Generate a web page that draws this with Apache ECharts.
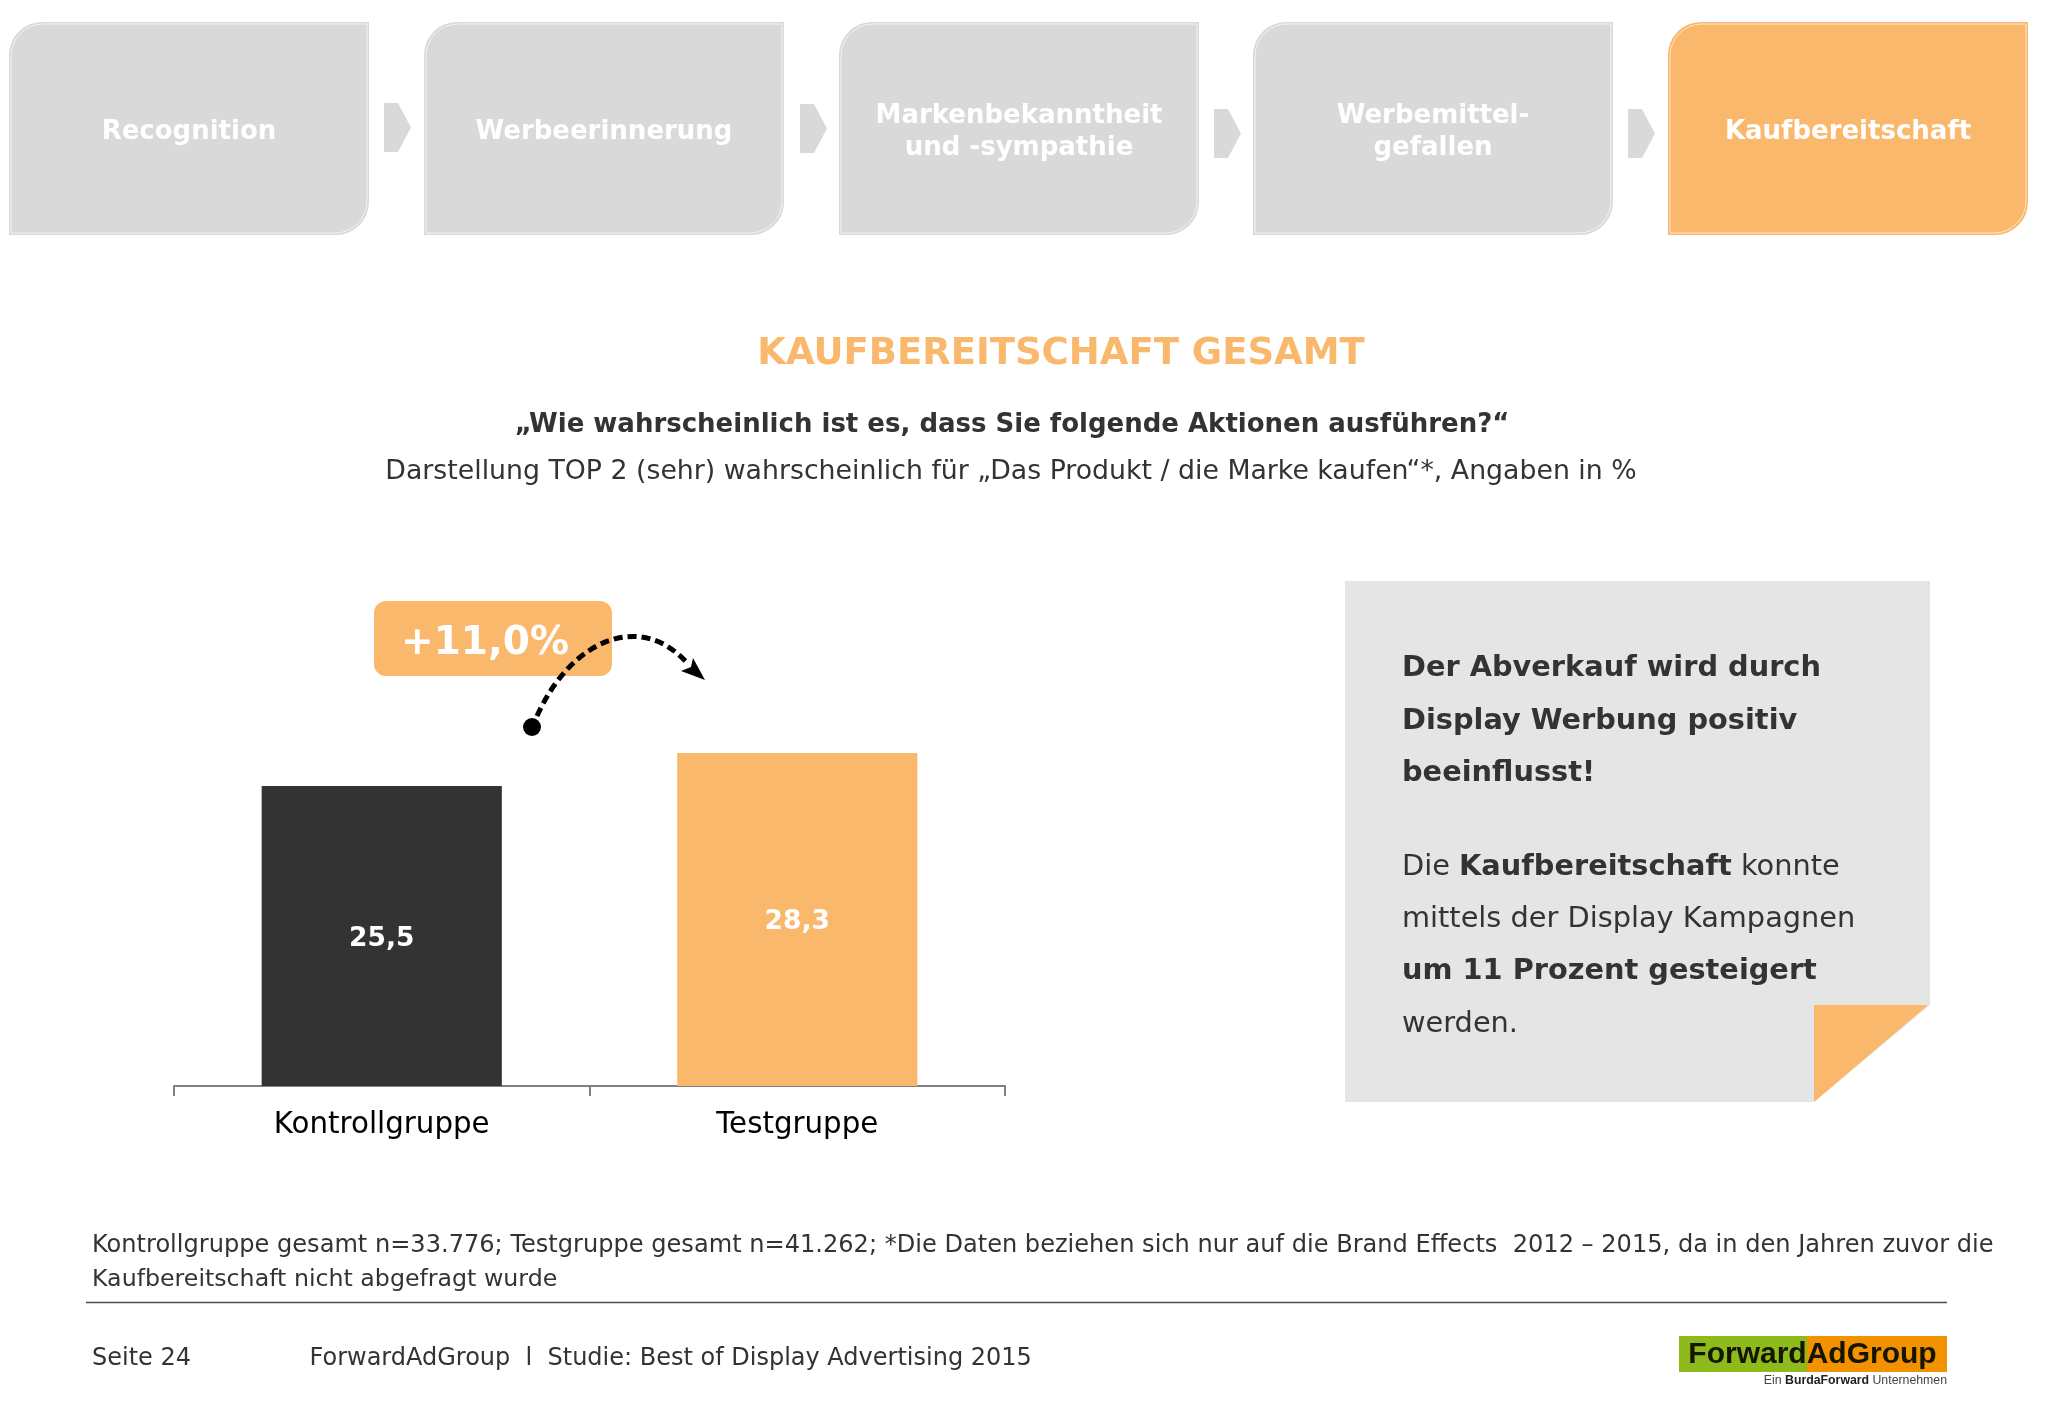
<!DOCTYPE html>
<html>
<head>
<meta charset="utf-8">
<title>Kaufbereitschaft gesamt</title>
<script src="https://cdn.jsdelivr.net/npm/echarts@6/dist/echarts.min.js"></script>
<style>
  html, body { margin: 0; padding: 0; background: #fff; }
  #chart { width: 2048px; height: 1418px; }
</style>
</head>
<body>
<div id="chart"></div>
<script>
// Chart data
const categories = ['Kontrollgruppe', 'Testgruppe'];
const values = [25.5, 28.3];
const barColors = ['#333333', '#FAB86C'];

// Process steps on top of the slide
const stepLabels = [
  ['Recognition'],
  ['Werbeerinnerung'],
  ['Markenbekanntheit', 'und -sympathie'],
  ['Werbemittel-', 'gefallen'],
  ['Kaufbereitschaft']
];
const stepLefts = [9, 424, 839, 1253, 1668];
const arrowLefts = [384, 800, 1214, 1628];
const arrowTops = [103, 104, 109, 109];

const noteLines = [
  '{b|Der Abverkauf wird durch}',
  '{b|Display Werbung positiv}',
  '{b|beeinflusst!}',
  'Die {b|Kaufbereitschaft} konnte',
  'mittels der Display Kampagnen',
  '{b|um 11 Prozent gesteigert}',
  'werden.'
];
const noteBottoms = [683, 736, 788, 882, 934, 986, 1039];

const FONT = '"DejaVu Sans", Verdana, sans-serif';
const LOGO_FONT = '"Liberation Sans", Arial, sans-serif';
const ORANGE = '#FAB86C';
const GREY = '#D9D9D9';
const INK = '#333333';

function txt(x, y, text, size, color, extra) {
  return {
    type: 'text',
    z: 20,
    style: Object.assign({
      x: x, y: y, text: text, fontSize: size, fontFamily: FONT, fill: color,
      align: 'center', verticalAlign: 'middle'
    }, extra || {})
  };
}

const graphics = [];

// step boxes
stepLefts.forEach((left, i) => {
  const active = i === stepLefts.length - 1;
  const fill = active ? ORANGE : GREY;
  graphics.push({
    type: 'rect',
    shape: { x: left, y: 22, width: 360, height: 213, r: [33, 0, 33, 0] },
    style: { fill: fill }
  });
  graphics.push({
    type: 'rect',
    shape: { x: left + 2, y: 24, width: 356, height: 209, r: [32, 0, 32, 0] },
    style: { fill: fill, stroke: active ? '#FDE6CB' : '#F3F3F3', lineWidth: 1 }
  });
  const cx = left + 180;
  const lines = stepLabels[i];
  lines.forEach((line, k) => {
    const cy = 132 + (k - (lines.length - 1) / 2) * 32;
    graphics.push(txt(cx, cy, line, 26, '#fff', { fontWeight: 'bold' }));
  });
});

// chevrons between the boxes
arrowLefts.forEach((left, i) => {
  const top = arrowTops[i];
  graphics.push({
    type: 'polygon',
    shape: { points: [[left, top], [left + 14, top], [left + 27, top + 24.5], [left + 14, top + 49], [left, top + 49]] },
    style: { fill: GREY }
  });
});

// headline
graphics.push(txt(1061, 354, 'KAUFBEREITSCHAFT GESAMT', 37, ORANGE, { fontWeight: 'bold' }));
graphics.push(txt(1012, 425, '\u201EWie wahrscheinlich ist es, dass Sie folgende Aktionen ausf\u00FChren?\u201C', 26, INK, { fontWeight: 'bold' }));
graphics.push(txt(1011, 472, 'Darstellung TOP 2 (sehr) wahrscheinlich f\u00FCr \u201EDas Produkt / die Marke kaufen\u201C*, Angaben in %', 26.75, INK));

// +11% badge and the dashed arrow
graphics.push({
  type: 'rect',
  z: 10,
  shape: { x: 374, y: 601, width: 238, height: 75, r: 12 },
  style: { fill: ORANGE }
});
graphics.push(txt(485, 644, '+11,0%', 39, '#fff', { fontWeight: 'bold' }));
graphics.push({
  type: 'bezierCurve',
  z: 21,
  shape: { x1: 537, y1: 716, cpx1: 572, cpy1: 638, cpx2: 642, cpy2: 611, x2: 688, y2: 664 },
  style: { stroke: '#000', fill: null, lineWidth: 5, lineDash: [9, 5] }
});
graphics.push({
  type: 'circle',
  z: 21,
  shape: { cx: 532, cy: 727, r: 9 },
  style: { fill: '#000' }
});
graphics.push({
  type: 'polygon',
  z: 21,
  shape: { points: [[705, 680], [681, 671], [691, 667], [693, 658]] },
  style: { fill: '#000' }
});

// note on the right with the folded corner
graphics.push({
  type: 'polygon',
  shape: { points: [[1345, 581], [1930, 581], [1930, 1005], [1814, 1102], [1345, 1102]] },
  style: { fill: '#E6E5E6' }
});
graphics.push({
  type: 'polygon',
  shape: { points: [[1814, 1005], [1928, 1005], [1814, 1102]] },
  style: { fill: ORANGE }
});
noteLines.forEach((line, i) => {
  graphics.push(txt(1402, noteBottoms[i], line, 28.8, INK, {
    align: 'left',
    verticalAlign: 'bottom',
    rich: { b: { fontWeight: 'bold', fontSize: 28.8, fontFamily: FONT, fill: INK } }
  }));
});

// footnote and footer
graphics.push(txt(92, 1246, 'Kontrollgruppe gesamt n=33.776; Testgruppe gesamt n=41.262; *Die Daten beziehen sich nur auf die Brand Effects  2012 \u2013 2015, da in den Jahren zuvor die', 24.08, INK, { align: 'left' }));
graphics.push(txt(92, 1280, 'Kaufbereitschaft nicht abgefragt wurde', 23.7, INK, { align: 'left' }));
graphics.push({
  type: 'line',
  shape: { x1: 86, y1: 1302.5, x2: 1947, y2: 1302.5 },
  style: { stroke: '#4d4d4d', lineWidth: 1.5 }
});
graphics.push(txt(92, 1359, 'Seite 24', 24, INK, { align: 'left' }));
graphics.push(txt(309.5, 1359, 'ForwardAdGroup  l  Studie: Best of Display Advertising 2015', 24, INK, { align: 'left' }));

// logo
graphics.push({ type: 'rect', shape: { x: 1679, y: 1336, width: 128, height: 36 }, style: { fill: '#8DBB1B' } });
graphics.push({ type: 'rect', shape: { x: 1807, y: 1336, width: 140, height: 36 }, style: { fill: '#F39200' } });
graphics.push(txt(1812.5, 1355, 'ForwardAdGroup', 30, '#161600', { fontWeight: 'bold', fontFamily: LOGO_FONT }));
graphics.push(txt(1947, 1381, 'Ein {b|BurdaForward} Unternehmen', 12.3, '#444', {
  align: 'right',
  fontFamily: LOGO_FONT,
  rich: { b: { fontWeight: 'bold', fontSize: 12.3, fontFamily: LOGO_FONT, fill: '#222' } }
}));

const chart = echarts.init(document.getElementById('chart'));
chart.setOption({
  animation: false,
  backgroundColor: '#fff',
  grid: { left: 174, right: 1043, top: 615.4, bottom: 332 },
  xAxis: {
    type: 'category',
    data: categories,
    axisLine: { lineStyle: { color: '#808080', width: 2 } },
    axisTick: { show: true, length: 10, lineStyle: { color: '#808080', width: 2 } },
    axisLabel: { color: '#000', fontSize: 29.3, fontFamily: FONT, margin: 25 }
  },
  yAxis: { type: 'value', min: 0, max: 40, show: false },
  series: [{
    type: 'bar',
    barWidth: '57.8%',
    data: values.map((v, i) => ({ value: v, itemStyle: { color: barColors[i] } })),
    label: {
      show: true,
      position: 'inside',
      offset: [0, 3],
      color: '#fff',
      fontWeight: 'bold',
      fontSize: 26.5,
      fontFamily: FONT,
      formatter: p => p.value.toFixed(1).replace('.', ',')
    }
  }],
  graphic: graphics
});
</script>
</body>
</html>
